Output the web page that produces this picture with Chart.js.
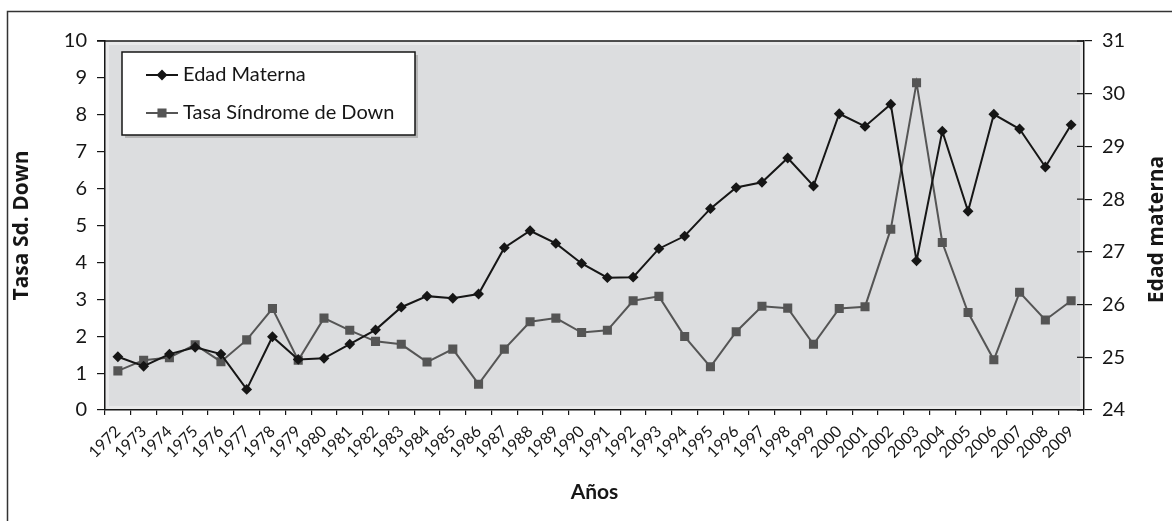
<!DOCTYPE html>
<html>
<head>
<meta charset="utf-8">
<script src="https://cdn.jsdelivr.net/npm/chart.js@4.4.0/dist/chart.umd.min.js"></script>
<style>
  html, body { margin: 0; padding: 0; background: #fff; }
</style>
</head>
<body>
<canvas id="chart" width="1172" height="521"></canvas>
<script>
// data
const years = ['1972','1973','1974','1975','1976','1977','1978','1979','1980','1981',
               '1982','1983','1984','1985','1986','1987','1988','1989','1990','1991',
               '1992','1993','1994','1995','1996','1997','1998','1999','2000','2001',
               '2002','2003','2004','2005','2006','2007','2008','2009'];
const edadMaterna = [25.01, 24.83, 25.06, 25.19, 25.06, 24.39, 25.39, 24.96, 24.98, 25.25,
                     25.52, 25.95, 26.16, 26.12, 26.20, 27.08, 27.40, 27.16, 26.78, 26.51,
                     26.52, 27.06, 27.30, 27.82, 28.22, 28.32, 28.78, 28.25, 29.62, 29.38,
                     29.80, 26.83, 29.29, 27.77, 29.61, 29.33, 28.61, 29.41];
const tasaDown = [1.06, 1.35, 1.42, 1.77, 1.31, 1.90, 2.75, 1.35, 2.49, 2.16,
                  1.86, 1.78, 1.30, 1.65, 0.70, 1.65, 2.39, 2.49, 2.10, 2.16,
                  2.96, 3.08, 1.99, 1.17, 2.12, 2.81, 2.76, 1.78, 2.75, 2.80,
                  4.90, 8.87, 4.54, 2.64, 1.36, 3.19, 2.44, 2.96];
const leftRange = [0, 10];
const rightRange = [24, 31];

const INK = '#161616';
const GREY = '#555555';

Chart.defaults.font.family = 'Lato';
Chart.defaults.color = INK;

// frame, plot fill, legend and right-hand title
const decor = {
    id: 'decor',
    beforeDraw(chart) {
        const ctx = chart.ctx;
        const a = chart.chartArea;
        ctx.save();
        ctx.fillStyle = '#fff';
        ctx.fillRect(0, 0, chart.width, chart.height);
        // outer frame (left + top edges visible)
        ctx.strokeStyle = '#333';
        ctx.lineWidth = 1.5;
        ctx.beginPath();
        ctx.moveTo(7.5, chart.height);
        ctx.lineTo(7.5, 11.5);
        ctx.lineTo(chart.width, 11.5);
        ctx.stroke();
        // plot background
        ctx.fillStyle = '#e9e9ea';
        ctx.fillRect(a.left, a.top, a.right - a.left, a.bottom - a.top);
        ctx.fillStyle = '#dcdddf';
        ctx.fillRect(a.left + 4, a.top + 4, a.right - a.left - 8, a.bottom - a.top - 8);
        ctx.restore();
    },
    afterDraw(chart) {
        const ctx = chart.ctx;
        const a = chart.chartArea;
        ctx.save();
        // top border of plot
        ctx.strokeStyle = INK;
        ctx.lineWidth = 1.5;
        ctx.beginPath();
        ctx.moveTo(a.left - 8, a.top);
        ctx.lineTo(a.right, a.top);
        ctx.stroke();
        // inner half of right-axis ticks
        const y1 = chart.scales.y1;
        ctx.lineWidth = 1.2;
        y1.ticks.forEach(t => {
            const py = y1.getPixelForValue(t.value);
            ctx.beginPath();
            ctx.moveTo(a.right - 7, py);
            ctx.lineTo(a.right, py);
            ctx.stroke();
        });
        // right title, reading bottom to top
        ctx.translate(1157, (a.top + a.bottom) / 2 + 4);
        ctx.rotate(-Math.PI / 2);
        ctx.font = 'bold 21px "Open Sans"';
        ctx.fillStyle = INK;
        ctx.textAlign = 'center';
        ctx.textBaseline = 'middle';
        ctx.fillText('Edad materna', 0, 0);
        ctx.restore();

        // legend box
        ctx.save();
        const bx = 122, by = 52, bw = 293, bh = 83;
        ctx.fillStyle = '#b5b5b5';
        ctx.fillRect(bx + 3, by + 3, bw, bh);
        ctx.fillStyle = '#fff';
        ctx.fillRect(bx, by, bw, bh);
        ctx.strokeStyle = INK;
        ctx.lineWidth = 1.5;
        ctx.strokeRect(bx, by, bw, bh);
        ctx.font = '20px Lato';
        ctx.textBaseline = 'middle';
        chart.data.datasets.forEach((ds, i) => {
            const ly = 75 + i * 38;
            ctx.strokeStyle = ds.borderColor;
            ctx.lineWidth = ds.borderWidth;
            ctx.beginPath();
            ctx.moveTo(146, ly);
            ctx.lineTo(178, ly);
            ctx.stroke();
            ctx.fillStyle = ds.pointBackgroundColor;
            ctx.strokeStyle = ds.pointBorderColor;
            Chart.helpers.drawPoint(ctx, {
                pointStyle: ds.pointStyle, radius: ds.pointRadius, rotation: 0, borderWidth: 1
            }, 162, ly);
            ctx.fillStyle = INK;
            ctx.fillText(ds.label, 183, ly);
        });
        ctx.restore();
    }
};

new Chart(document.getElementById('chart'), {
    type: 'line',
    data: {
        labels: years,
        datasets: [{
            label: 'Edad Materna',
            data: edadMaterna,
            yAxisID: 'y1',
            borderColor: INK,
            borderWidth: 2,
            pointStyle: 'rectRot',
            pointRadius: 4,
            pointBackgroundColor: INK,
            pointBorderColor: INK,
            tension: 0
        }, {
            label: 'Tasa Síndrome de Down',
            data: tasaDown,
            yAxisID: 'y',
            borderColor: GREY,
            borderWidth: 2,
            pointStyle: 'rect',
            pointRadius: 5,
            pointBackgroundColor: GREY,
            pointBorderColor: GREY,
            tension: 0
        }]
    },
    options: {
        responsive: false,
        animation: false,
        layout: { padding: { top: 41, left: 0, right: 0, bottom: 0 } },
        plugins: {
            legend: { display: false },
            tooltip: { enabled: false }
        },
        scales: {
            x: {
                offset: true,
                grid: { offset: true, drawOnChartArea: false, tickLength: 5, color: INK, lineWidth: 1.2 },
                border: { color: INK, width: 1.5 },
                ticks: { autoSkip: false, maxRotation: 45, minRotation: 45, padding: 7, font: { size: 16 }, color: INK },
                title: { display: true, text: 'Años', font: { family: 'Lato', weight: 'bold', size: 21 }, padding: { top: 0, bottom: 16 }, color: INK },
                afterFit(s) { s.height = 111; }
            },
            y: {
                position: 'left',
                min: leftRange[0],
                max: leftRange[1],
                ticks: { stepSize: 1, padding: 10, font: { size: 20 }, color: INK },
                grid: { drawOnChartArea: false, tickLength: 8, color: INK, lineWidth: 1.2 },
                border: { color: INK, width: 1.5 },
                title: { display: true, text: 'Tasa Sd. Down', font: { family: 'Open Sans', weight: 'bold', size: 21 }, padding: { top: 9, bottom: 0 }, color: INK },
                afterFit(s) { s.width = 105; }
            },
            y1: {
                position: 'right',
                min: rightRange[0],
                max: rightRange[1],
                ticks: { stepSize: 1, padding: 10, font: { size: 20 }, color: INK },
                grid: { drawOnChartArea: false, tickLength: 8, color: INK, lineWidth: 1.2 },
                border: { color: INK, width: 1.5 },
                afterFit(s) { s.width = 88; }
            }
        }
    },
    plugins: [decor]
});
</script>
</body>
</html>
